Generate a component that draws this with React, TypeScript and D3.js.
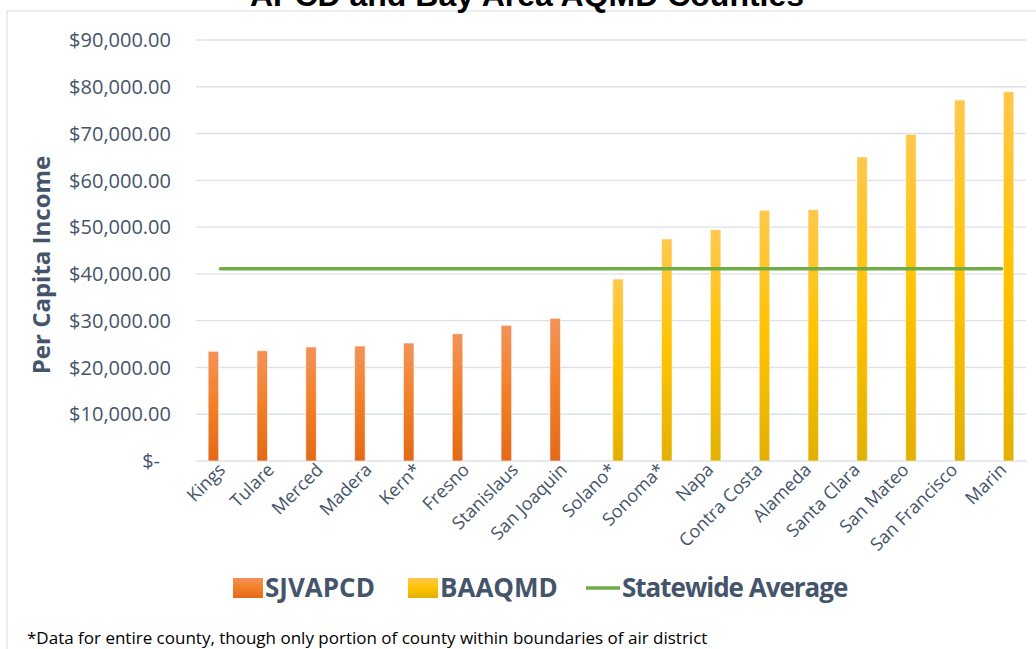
import React from "react";
import * as d3 from "d3";

const categories = ["Kings", "Tulare", "Merced", "Madera", "Kern*", "Fresno", "Stanislaus", "San Joaquin", "Solano*", "Sonoma*", "Napa", "Contra Costa", "Alameda", "Santa Clara", "San Mateo", "San Francisco", "Marin"];
const sjvCounties = ["Kings", "Tulare", "Merced", "Madera", "Kern*", "Fresno", "Stanislaus", "San Joaquin"];
const sjvValues = [23450, 23580, 24370, 24580, 25220, 27220, 29000, 30500];
const baaqmdCounties = ["Solano*", "Sonoma*", "Napa", "Contra Costa", "Alameda", "Santa Clara", "San Mateo", "San Francisco", "Marin"];
const baaqmdValues = [38900, 47460, 49450, 53590, 53730, 64990, 69840, 77170, 78950];
const statewideAverage = 41100;
const seriesNames = ["SJVAPCD", "BAAQMD"];
const yTicks = [0, 10000, 20000, 30000, 40000, 50000, 60000, 70000, 80000, 90000];
const titleLine = "APCD and Bay Area AQMD Counties";
const yAxisTitle = "Per Capita Income";
const legendLabels = ["SJVAPCD", "BAAQMD", "Statewide Average"];
const footnote = "*Data for entire county, though only portion of county within boundaries of air district";

const W = 1036;
const H = 649;
const plotLeft = 196;
const plotRight = 1026;
const plotTop = 40;
const plotBottom = 461;
const textColor = "#44546A";

export default function App() {
  const x = d3.scaleBand<string>().domain(categories).range([plotLeft, plotRight]).paddingInner(0).paddingOuter(0);
  const inner = d3.scaleBand<string>().domain(seriesNames).range([0, x.bandwidth()]).paddingInner(0.25).paddingOuter(0.87);
  const y = d3.scaleLinear().domain([0, 90000]).range([plotBottom, plotTop]);
  const fmt = d3.format("$,.2f");

  const bars = [
    ...sjvCounties.map((c, i) => ({ c, v: sjvValues[i], s: "SJVAPCD" })),
    ...baaqmdCounties.map((c, i) => ({ c, v: baaqmdValues[i], s: "BAAQMD" })),
  ];

  const lineGen = d3.line<string>().x((c) => (x(c) as number) + x.bandwidth() / 2).y(() => y(statewideAverage));

  return (
    <svg width={W} height={H} style={{ position: "absolute", left: 0, top: 0, background: "#fff" }}>
      <defs>
        <linearGradient id="gSJV" x1="0" y1="0" x2="0" y2="1">
          <stop offset="0%" stopColor="#F29359" />
          <stop offset="50%" stopColor="#F27F27" />
          <stop offset="100%" stopColor="#E36A18" />
        </linearGradient>
        <linearGradient id="gBA" x1="0" y1="0" x2="0" y2="1">
          <stop offset="0%" stopColor="#FFC84D" />
          <stop offset="50%" stopColor="#FFC300" />
          <stop offset="100%" stopColor="#E2B004" />
        </linearGradient>
      </defs>
      <rect x={7} y={11} width={W} height={H} fill="#fff" stroke="#D9D9D9" strokeWidth={1} />
      <text x={527} y={6} textAnchor="middle" fontFamily="Liberation Sans, Arial, sans-serif" fontWeight="bold" fontSize={32} fill="#000">
        {titleLine}
      </text>
      {yTicks.map((t) => (
        <g key={t}>
          <line x1={plotLeft} x2={plotRight} y1={y(t)} y2={y(t)} stroke="#DCE1E8" strokeWidth={1.4} />
          <text x={t === 0 ? 160 : 171} y={y(t)} dy="0.36em" textAnchor="end" fontFamily="Open Sans" fontSize={20} fill={textColor}>
            {t === 0 ? "$-" : fmt(t)}
          </text>
        </g>
      ))}
      <text transform={`translate(50,265) rotate(-90)`} textAnchor="middle" fontFamily="Open Sans" fontWeight="bold" fontSize={24} fill={textColor}>
        {yAxisTitle}
      </text>
      {bars.map((b) => (
        <rect
          key={b.c}
          x={(x(b.c) as number) + (inner(b.s) as number)}
          y={y(b.v)}
          width={inner.bandwidth()}
          height={y(0) - y(b.v)}
          fill={b.s === "SJVAPCD" ? "url(#gSJV)" : "url(#gBA)"}
          stroke="#FFFFFF"
          strokeOpacity={0.55}
          strokeWidth={1}
        />
      ))}
      <path d={lineGen(categories) as string} stroke="#70AD47" strokeWidth={3.5} strokeLinecap="round" fill="none" />
      {categories.map((c) => {
        const cx = (x(c) as number) + x.bandwidth() / 2;
        return (
          <text key={c} transform={`translate(${cx + 6},471) rotate(-45)`} textAnchor="end" fontFamily="Open Sans" fontSize={18} fill={textColor}>
            {c}
          </text>
        );
      })}
      <g fontFamily="Open Sans" fontWeight="bold" fontSize={26} fill={textColor}>
        <rect x={233} y={578} width={30} height={20} fill="url(#gSJV)" />
        <text x={265} y={597}>{legendLabels[0]}</text>
        <rect x={408} y={578} width={30} height={20} fill="url(#gBA)" />
        <text x={440} y={597}>{legendLabels[1]}</text>
        <line x1={586} x2={620} y1={588} y2={588} stroke="#70AD47" strokeWidth={3.5} />
        <text x={622} y={597} letterSpacing={-1}>{legendLabels[2]}</text>
      </g>
      <text x={27} y={644} fontFamily="Open Sans" fontSize={17} fill="#000">
        {footnote}
      </text>
    </svg>
  );
}
